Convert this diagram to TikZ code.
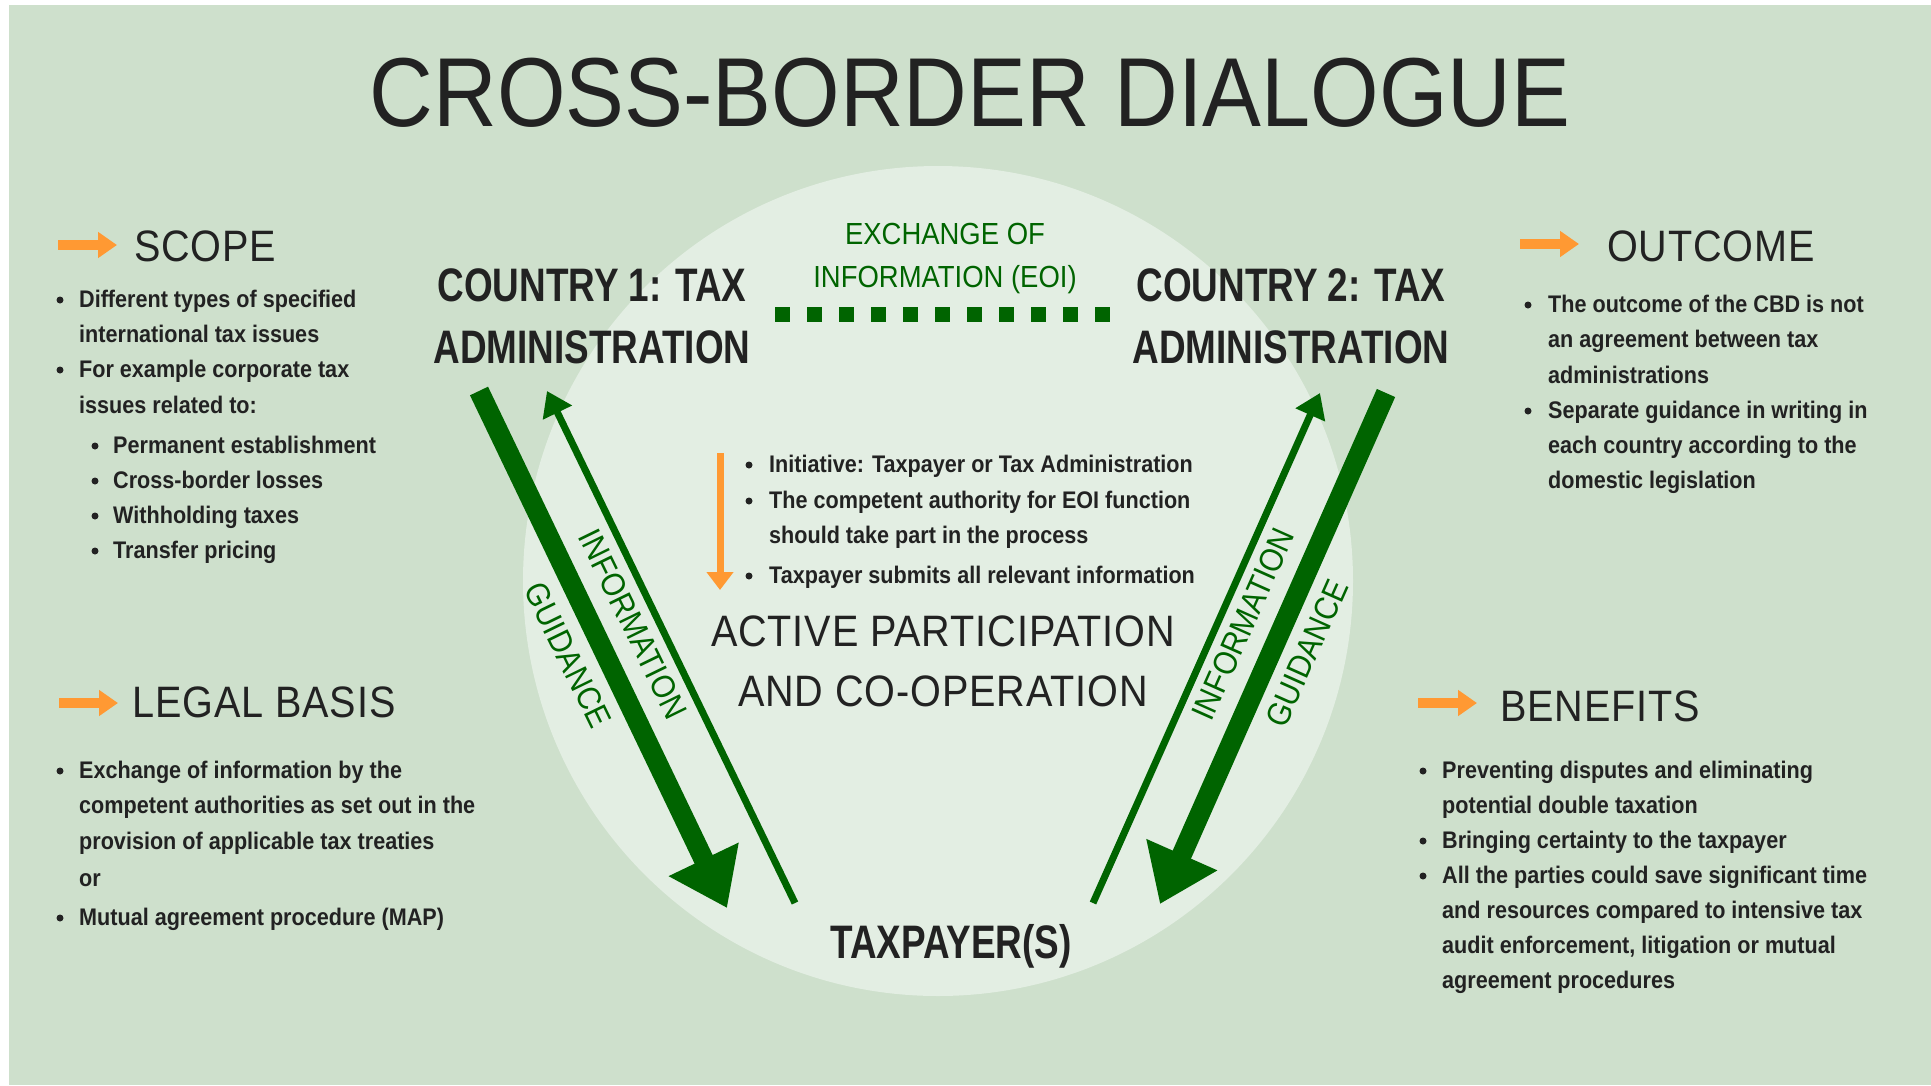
\documentclass[tikz,border=0pt]{standalone}
\usepackage{fontspec}
\usetikzlibrary{arrows.meta}
\newfontfamily\lightfont[FakeStretch=0.9]{Liberation Sans}
\newfontfamily\headfont[FakeStretch=0.9,LetterSpace=2]{Liberation Sans}
\newfontfamily\condfont[FakeStretch=0.785]{Liberation Sans}
\definecolor{bgc}{HTML}{CEE0CC}
\definecolor{circc}{HTML}{E3EEE3}
\definecolor{dgreen}{HTML}{006400}
\definecolor{txt}{HTML}{222222}
\definecolor{orangec}{HTML}{FF9933}
\tikzset{
  bodytext/.style={anchor=base west, inner sep=0pt, text=txt, font=\lightfont\bfseries\fontsize{24}{28}\selectfont},
  dot/.style={circle, fill=txt, draw=none, inner sep=0pt, minimum size=7pt},
  headtext/.style={anchor=base west, inner sep=0pt, text=txt, font=\headfont\fontsize{44}{50}\selectfont},
  centertext/.style={anchor=base, inner sep=0pt, text=txt, font=\headfont\fontsize{44}{50}\selectfont},
  countrytext/.style={anchor=base, inner sep=0pt, text=txt, font=\condfont\bfseries\fontsize{47}{52}\selectfont},
  eoitext/.style={anchor=base, inner sep=0pt, text=dgreen, font=\lightfont\fontsize{30.5}{34}\selectfont},
  arrowlabel/.style={inner sep=0pt, text=dgreen, font=\lightfont\fontsize{33}{36}\selectfont},
  orarrow/.style={draw=orangec, line width=10pt, -{Triangle[length=19pt,width=25pt]}},
  thickarrow/.style={draw=dgreen, line width=20pt, -{Triangle[length=54pt,width=74pt]}},
  thinarrow/.style={draw=dgreen, line width=7pt, -{Triangle[length=24pt,width=31pt]}},
}
\newcommand\bodyline[4]{\node[bodytext] (#1) at (#2,#3) {#4};}
\newcommand\bulletdot[3]{\node[dot] (#1) at (#2,#3) {};}
\begin{document}
\begin{tikzpicture}[x=1pt,y=-1pt]
\useasboundingbox (0,0) rectangle (1931,1085);
\fill[white] (0,0) rectangle (1931,1085);
\fill[bgc] (9,5) rectangle (1931,1085);
\fill[circc] (938,581) circle (415pt);

% title
\node[anchor=base, inner sep=0pt, text=txt, font=\lightfont\fontsize{98}{100}\selectfont] (title) at (970,126) {CROSS-BORDER DIALOGUE};

% SCOPE
\coordinate (scA) at (58,245); \coordinate (scB) at (117,245);
\draw[orarrow] (scA) -- (scB);
\node[headtext] (scope) at (134,261) {SCOPE};
\bulletdot{sd1}{60}{300}
\bodyline{s1}{79}{307}{Different types of specified}
\bodyline{s2}{79}{342}{international tax issues}
\bulletdot{sd2}{60}{370}
\bodyline{s3}{79}{377}{For example corporate tax}
\bodyline{s4}{79}{413}{issues related to:}
\bulletdot{sd3}{95}{446}
\bodyline{s5}{113}{453}{Permanent establishment}
\bulletdot{sd4}{95}{481}
\bodyline{s6}{113}{488}{Cross-border losses}
\bulletdot{sd5}{95}{516}
\bodyline{s7}{113}{523}{Withholding taxes}
\bulletdot{sd6}{95}{551}
\bodyline{s8}{113}{558}{Transfer pricing}

% LEGAL BASIS
\coordinate (lbA) at (59,703); \coordinate (lbB) at (118,703);
\draw[orarrow] (lbA) -- (lbB);
\node[headtext] (legal) at (132,717) {LEGAL BASIS};
\bulletdot{ld1}{60}{771}
\bodyline{l1}{79}{778}{Exchange of information by the}
\bodyline{l2}{79}{813}{competent authorities as set out in the}
\bodyline{l3}{79}{849}{provision of applicable tax treaties}
\bodyline{l4}{79}{886}{or}
\bulletdot{ld2}{60}{918}
\bodyline{l5}{79}{925}{Mutual agreement procedure (MAP)}

% OUTCOME
\coordinate (ocA) at (1520,244); \coordinate (ocB) at (1579,244);
\draw[orarrow] (ocA) -- (ocB);
\node[headtext] (outcome) at (1607,261) {OUTCOME};
\bulletdot{od1}{1528}{305}
\bodyline{o1}{1548}{312}{The outcome of the CBD is not}
\bodyline{o2}{1548}{347}{an agreement between tax}
\bodyline{o3}{1548}{383}{administrations}
\bulletdot{od2}{1528}{411}
\bodyline{o4}{1548}{418}{Separate guidance in writing in}
\bodyline{o5}{1548}{453}{each country according to the}
\bodyline{o6}{1548}{488}{domestic legislation}

% BENEFITS
\coordinate (bnA) at (1418,703); \coordinate (bnB) at (1477,703);
\draw[orarrow] (bnA) -- (bnB);
\node[headtext] (benefits) at (1500,721) {BENEFITS};
\bulletdot{bd1}{1423}{771}
\bodyline{b1}{1442}{778}{Preventing disputes and eliminating}
\bodyline{b2}{1442}{813}{potential double taxation}
\bulletdot{bd2}{1423}{841}
\bodyline{b3}{1442}{848}{Bringing certainty to the taxpayer}
\bulletdot{bd3}{1423}{876}
\bodyline{b4}{1442}{883}{All the parties could save significant time}
\bodyline{b5}{1442}{918}{and resources compared to intensive tax}
\bodyline{b6}{1442}{953}{audit enforcement, litigation or mutual}
\bodyline{b7}{1442}{988}{agreement procedures}

% centre block
\coordinate (apA) at (720,453); \coordinate (apB) at (720,590);
\draw[draw=orangec, line width=7pt, -{Triangle[length=18pt,width=26pt]}] (apA) -- (apB);
\bulletdot{cd1}{749}{465}
\bodyline{c1}{769}{472}{Initiative: Taxpayer or Tax Administration}
\bulletdot{cd2}{749}{501}
\bodyline{c2}{769}{508}{The competent authority for EOI function}
\bodyline{c3}{769}{543}{should take part in the process}
\bulletdot{cd3}{749}{576}
\bodyline{c4}{769}{583}{Taxpayer submits all relevant information}
\node[centertext] (act1) at (943,646) {ACTIVE PARTICIPATION};
\node[centertext] (act2) at (943,706) {AND CO-OPERATION};

% countries and taxpayer
\node[countrytext] (cty1a) at (592,301) {COUNTRY 1: TAX};
\node[countrytext] (cty1b) at (592,363) {ADMINISTRATION};
\node[countrytext] (cty2a) at (1291,301) {COUNTRY 2: TAX};
\node[countrytext] (cty2b) at (1291,363) {ADMINISTRATION};
\node[countrytext] (taxp) at (951,958) {TAXPAYER(S)};

% EOI
\node[eoitext] (eoi1) at (945,244) {EXCHANGE OF};
\node[eoitext] (eoi2) at (945,287) {INFORMATION (EOI)};
\coordinate (eoiL) at (775,314.5); \coordinate (eoiR) at (1111,314.5);
\draw[dgreen, line width=15pt, dash pattern=on 15.4pt off 16.6pt] (eoiL) -- (eoiR);

% arrows left
\coordinate (lTk0) at (479,391); \coordinate (lTk1) at (727,908);
\coordinate (lTn0) at (795,903); \coordinate (lTn1) at (547,391);
\draw[thickarrow] (lTk0) -- (lTk1);
\draw[thinarrow] (lTn0) -- (lTn1);
\node[arrowlabel, rotate=-64] (linfo) at (633,624) {INFORMATION};
\node[arrowlabel, rotate=-64] (lguid) at (568,655) {GUIDANCE};

% arrows right
\coordinate (rTk0) at (1386,393); \coordinate (rTk1) at (1160,904);
\coordinate (rTn0) at (1093,903); \coordinate (rTn1) at (1320,393);
\draw[thickarrow] (rTk0) -- (rTk1);
\draw[thinarrow] (rTn0) -- (rTn1);
\node[arrowlabel, rotate=66] (rinfo) at (1243,624) {INFORMATION};
\node[arrowlabel, rotate=66] (rguid) at (1307,653) {GUIDANCE};
\end{tikzpicture}
\end{document}
